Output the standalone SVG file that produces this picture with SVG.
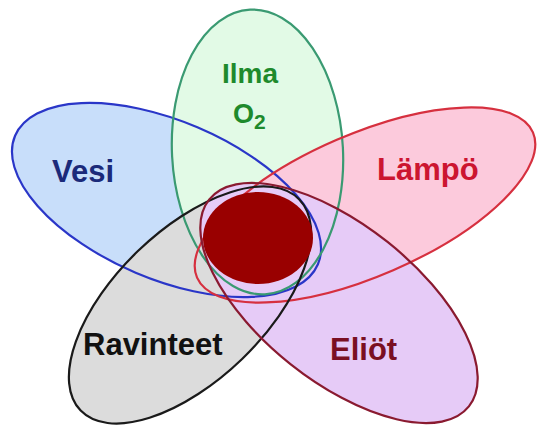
<svg xmlns="http://www.w3.org/2000/svg" xmlns:xlink="http://www.w3.org/1999/xlink" width="537" height="428" viewBox="0 0 537 428">
<style>
  .lbl { font-family: "Liberation Sans", Arial, sans-serif; font-weight: bold; font-size: 31px; stroke: none; }
  .outline { fill: none; stroke-width: 2.2; }
</style>
<defs>
  <ellipse id="e-vesi" cx="166.5" cy="200" rx="164.5" ry="79" transform="rotate(23 166.5 200)"/>
  <ellipse id="e-ilma" cx="257.5" cy="152" rx="85.5" ry="142.5" transform="rotate(-3 257.5 152)"/>
  <ellipse id="e-lampo" cx="365" cy="205" rx="183" ry="71" transform="rotate(-23.4 365 205)"/>
  <ellipse id="e-ravinteet" cx="190" cy="305" rx="152" ry="75" transform="rotate(-44 190 305)"/>
  <ellipse id="e-eliot" cx="339" cy="303" rx="166" ry="78" transform="rotate(38.5 339 303)"/>
</defs>
<rect width="537" height="428" fill="#ffffff"/>
<g id="vesi" fill="#c8defa" stroke="none">
  <use href="#e-vesi" xlink:href="#e-vesi"/>
  <text class="lbl" x="52" y="182" fill="#1b2a7a">Vesi</text>
</g>
<g id="ilma" fill="#e2fae6" stroke="none">
  <use href="#e-ilma" xlink:href="#e-ilma"/>
  <text class="lbl" x="222" y="83" fill="#1e8a2c" style="font-size:28px">Ilma</text>
  <text class="lbl" x="233" y="123" fill="#1e8a2c" style="font-size:27px">O<tspan dy="6" style="font-size:21px">2</tspan></text>
</g>
<g id="lampo" fill="#fccadc" stroke="none">
  <use href="#e-lampo" xlink:href="#e-lampo"/>
  <text class="lbl" x="377" y="180" fill="#cc1530">Lämpö</text>
</g>
<g id="ravinteet" fill="#dcdcdc" stroke="none">
  <use href="#e-ravinteet" xlink:href="#e-ravinteet"/>
  <text class="lbl" x="83" y="355" fill="#111111">Ravinteet</text>
</g>
<g id="eliot" fill="#e6cbf7" stroke="none">
  <use href="#e-eliot" xlink:href="#e-eliot"/>
  <text class="lbl" x="330" y="360" fill="#7a0f22">Eliöt</text>
</g>
<g id="outlines">
  <use class="outline" href="#e-vesi" xlink:href="#e-vesi" stroke="#2a36c8"/>
  <use class="outline" href="#e-ilma" xlink:href="#e-ilma" stroke="#3a9a72"/>
  <use class="outline" href="#e-lampo" xlink:href="#e-lampo" stroke="#d6303f"/>
  <use class="outline" href="#e-ravinteet" xlink:href="#e-ravinteet" stroke="#1a1a1a"/>
  <use class="outline" href="#e-eliot" xlink:href="#e-eliot" stroke="#8a1a30"/>
</g>
<g id="keskus">
  <ellipse cx="258" cy="238" rx="55" ry="46" fill="#990000"/>
</g>
</svg>
